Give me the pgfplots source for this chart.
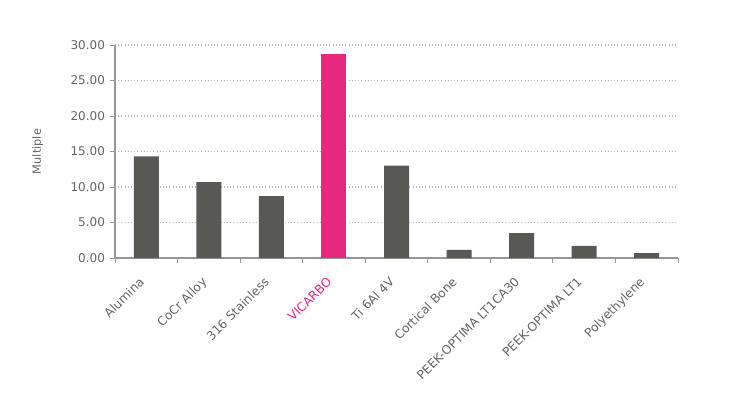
\documentclass[border=0pt]{standalone}
\usepackage{pgfplots}
\pgfplotsset{compat=1.18}
\usepackage{fontspec}
\setmainfont{DejaVu Sans}
\definecolor{bargray}{RGB}{88,88,84}
\definecolor{vpink}{RGB}{228,41,127}
\definecolor{axgray}{RGB}{150,150,150}
\definecolor{txtgray}{RGB}{100,100,100}
\definecolor{gridgray}{RGB}{185,185,185}

\begin{document}
\begin{tikzpicture}[x=0.75pt,y=0.75pt]
\path[use as bounding box] (-115,-142) rectangle (615,258);
\begin{axis}[
  at={(0,0)}, anchor=south west,
  scale only axis, width=422.25pt, height=159.75pt,
  xmin=0, xmax=9, ymin=0, ymax=30,
  axis x line=bottom, axis y line=left,
  axis line style={-, axgray, line width=0.8pt},
  ytick={0,5,...,30},
  /pgf/number format/fixed,
  /pgf/number format/fixed zerofill,
  /pgf/number format/precision=2,
  /pgf/number format/assume math mode=true,
  xtick={0.5,1.5,...,8.5},
  xticklabels={Alumina, CoCr Alloy, 316 Stainless, \textcolor{vpink}{VICARBO}, Ti 6Al 4V,
    Cortical Bone, PEEK-OPTIMA LT1CA30, PEEK-OPTIMA LT1, Polyethylene},
  major x tick style={draw=none},
  minor xtick={0,1,...,9},
  minor x tick style={axgray, line width=0.6pt},
  minor tick length=4pt,
  y tick style={axgray, line width=0.6pt},
  major tick length=4pt,
  tick align=outside,
  xticklabel style={xshift=-6pt, yshift=-8pt, rotate=45, anchor=north east, font=\fontsize{9.2}{10}\selectfont, text=txtgray, inner sep=1pt},
  yticklabel style={font=\fontsize{9}{10}\selectfont, text=txtgray},
  ymajorgrids, grid style={dotted, gridgray, line width=0.8pt},
  ylabel={Multiple},
  ylabel style={at={(axis description cs:-0.137,0.5)}, anchor=center, font=\fontsize{8.5}{10}\selectfont, text=txtgray},
  ybar, bar width=18.75pt, bar shift=0pt,
]
\addplot[fill=bargray, draw=none] coordinates {
  (0.5,14.3) (1.5,10.7) (2.5,8.7) (4.5,13.0)
  (5.5,1.15) (6.5,3.5) (7.5,1.7) (8.5,0.7)};
\addplot[fill=vpink, draw=none] coordinates {(3.5,28.7)};
\end{axis}
\end{tikzpicture}
\end{document}
